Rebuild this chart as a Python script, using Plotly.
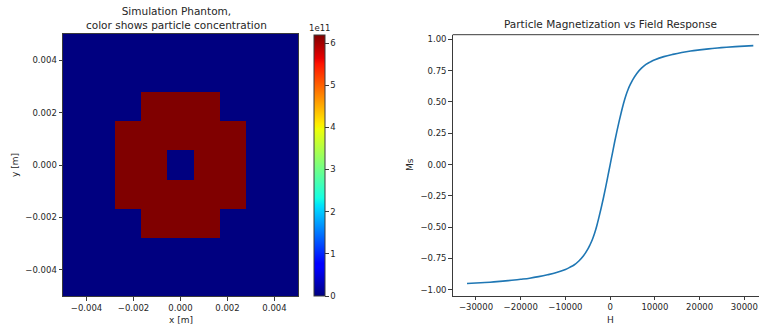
import plotly.graph_objects as go

# ---------------- data ----------------
# phantom: 9 x 9 grid of particle concentration (rows bottom -> top)
C = 6.19e11
phantom_z = [
    [0, 0, 0, 0, 0, 0, 0, 0, 0],
    [0, 0, 0, 0, 0, 0, 0, 0, 0],
    [0, 0, 0, C, C, C, 0, 0, 0],
    [0, 0, C, C, C, C, C, 0, 0],
    [0, 0, C, C, 0, C, C, 0, 0],
    [0, 0, C, C, C, C, C, 0, 0],
    [0, 0, 0, C, C, C, 0, 0, 0],
    [0, 0, 0, 0, 0, 0, 0, 0, 0],
    [0, 0, 0, 0, 0, 0, 0, 0, 0],
]
extent = [-0.005, 0.005]
n_cells = 9
cell = (extent[1] - extent[0]) / n_cells
cell_centers = [extent[0] + (i + 0.5) * cell for i in range(n_cells)]

phantom_ticks = [-0.004, -0.002, 0.0, 0.002, 0.004]
cbar_ticks = [0, 1, 2, 3, 4, 5, 6]

# magnetization curve
H_pos = [0, 500, 1000, 1500, 2000, 2500, 3000, 3500, 4000, 4500, 5000, 6000, 7000, 8000,
         9000, 10000, 12000, 14000, 16000, 18000, 20000, 22000, 24000, 26000, 28000, 30000, 32000]
M_pos = [0.0, 0.09, 0.18, 0.265, 0.345, 0.42, 0.49, 0.55, 0.60, 0.64, 0.675, 0.73, 0.77, 0.80,
         0.82, 0.837, 0.862, 0.88, 0.895, 0.907, 0.916, 0.924, 0.931, 0.937, 0.942, 0.946, 0.95]
H = [-h for h in H_pos[:0:-1]] + H_pos
Ms = [-m for m in M_pos[:0:-1]] + M_pos

H_ticks = [-30000, -20000, -10000, 0, 10000, 20000, 30000]
M_ticks = [-1.0, -0.75, -0.5, -0.25, 0.0, 0.25, 0.5, 0.75, 1.0]

# ---------------- style ----------------
W, Hh = 759, 330
FONT = "DejaVu Sans"
TXT = "#262626"
AX = "#3a3a3a"
TICK_SIZE = 8.5
TITLE_SIZE = 10.5
LABEL_SIZE = 9

jet = [
    [0.0, "rgb(0,0,128)"], [0.11, "rgb(0,0,255)"], [0.125, "rgb(0,0,255)"],
    [0.34, "rgb(0,219,255)"], [0.35, "rgb(0,230,247)"], [0.375, "rgb(21,255,226)"],
    [0.64, "rgb(239,255,8)"], [0.65, "rgb(247,245,0)"], [0.66, "rgb(255,236,0)"],
    [0.89, "rgb(255,19,0)"], [0.91, "rgb(232,0,0)"], [1.0, "rgb(128,0,0)"],
]

def px_x(p):
    return p / W

def px_y(p):
    return 1 - p / Hh

fig = go.Figure()

fig.add_trace(go.Heatmap(
    z=phantom_z, x=cell_centers, y=cell_centers,
    colorscale=jet, zmin=0, zmax=C,
    xaxis="x", yaxis="y", hoverinfo="skip",
    colorbar=dict(
        x=px_x(314), xanchor="left", xref="paper",
        y=px_y(165.5), yanchor="middle", len=261 / Hh, lenmode="fraction",
        thickness=11, thicknessmode="pixels",
        tickvals=[v * 1e11 for v in cbar_ticks], ticktext=[str(v) for v in cbar_ticks],
        ticks="outside", ticklen=3.5, tickwidth=1, tickcolor=AX,
        outlinewidth=1, outlinecolor=AX,
        tickfont=dict(family=FONT, size=TICK_SIZE, color=TXT),
        xpad=0, ypad=0,
    ),
))

fig.add_trace(go.Scatter(
    x=H, y=Ms, mode="lines", line=dict(color="#1f77b4", width=1.6, shape="spline"),
    xaxis="x2", yaxis="y2", showlegend=False, hoverinfo="skip",
))

axis_common = dict(
    showgrid=False, zeroline=False, showline=True, linecolor=AX, linewidth=1,
    ticks="outside", ticklen=3.5, tickwidth=1, tickcolor=AX,
    tickfont=dict(family=FONT, size=TICK_SIZE, color=TXT),
    ticklabeloverflow="allow",
)

fig.update_layout(
    width=W, height=Hh,
    margin=dict(l=0, r=0, t=0, b=0),
    paper_bgcolor="white", plot_bgcolor="white",
    showlegend=False,
    xaxis=dict(domain=[px_x(63), px_x(298)], range=extent, mirror=True,
               tickvals=phantom_ticks, tickformat=".3f", anchor="y", **axis_common),
    yaxis=dict(domain=[px_y(296), px_y(34)], range=extent, mirror=True,
               tickvals=phantom_ticks, tickformat=".3f", anchor="x", **axis_common),
    xaxis2=dict(domain=[px_x(452.7), 1.0], range=[-35200, 33270],
                tickvals=H_ticks, tickformat="d", anchor="y2", **axis_common),
    yaxis2=dict(domain=[px_y(295.7), px_y(34.7)], range=[-1.047, 1.037],
                tickvals=M_ticks, tickformat=".2f", anchor="x2", **axis_common),
    font=dict(family=FONT, color=TXT),
)

# top spine of the right axes (right spine is cut off in the reference)
fig.add_shape(type="line", xref="paper", yref="paper",
              x0=px_x(452.7), x1=1.0, y0=px_y(34.7), y1=px_y(34.7),
              line=dict(color=AX, width=1))

ann = [
    dict(text="Simulation Phantom,<br>color shows particle concentration",
         x=px_x(176.5), y=px_y(18), size=TITLE_SIZE, angle=0),
    dict(text="Particle Magnetization vs Field Response", x=px_x(610), y=px_y(24),
         size=TITLE_SIZE, angle=0),
    dict(text="x [m]", x=px_x(180.5), y=px_y(320), size=LABEL_SIZE, angle=0),
    dict(text="y [m]", x=px_x(15), y=px_y(165), size=LABEL_SIZE, angle=-90),
    dict(text="H", x=px_x(610), y=px_y(320), size=LABEL_SIZE, angle=0),
    dict(text="Ms", x=px_x(410), y=px_y(165), size=LABEL_SIZE, angle=-90),
    dict(text="1e11", x=px_x(319), y=px_y(28), size=TICK_SIZE, angle=0),
]
for a in ann:
    fig.add_annotation(text=a["text"], x=a["x"], y=a["y"], xref="paper", yref="paper",
                       showarrow=False, textangle=a["angle"], xanchor="center", yanchor="middle",
                       font=dict(family=FONT, size=a["size"], color=TXT))

fig.write_html(
    "out.html",
    config={"displayModeBar": False, "staticPlot": True},
    post_script="document.body.style.margin='0';document.body.style.padding='0';"
                "document.body.style.overflow='hidden';",
)
